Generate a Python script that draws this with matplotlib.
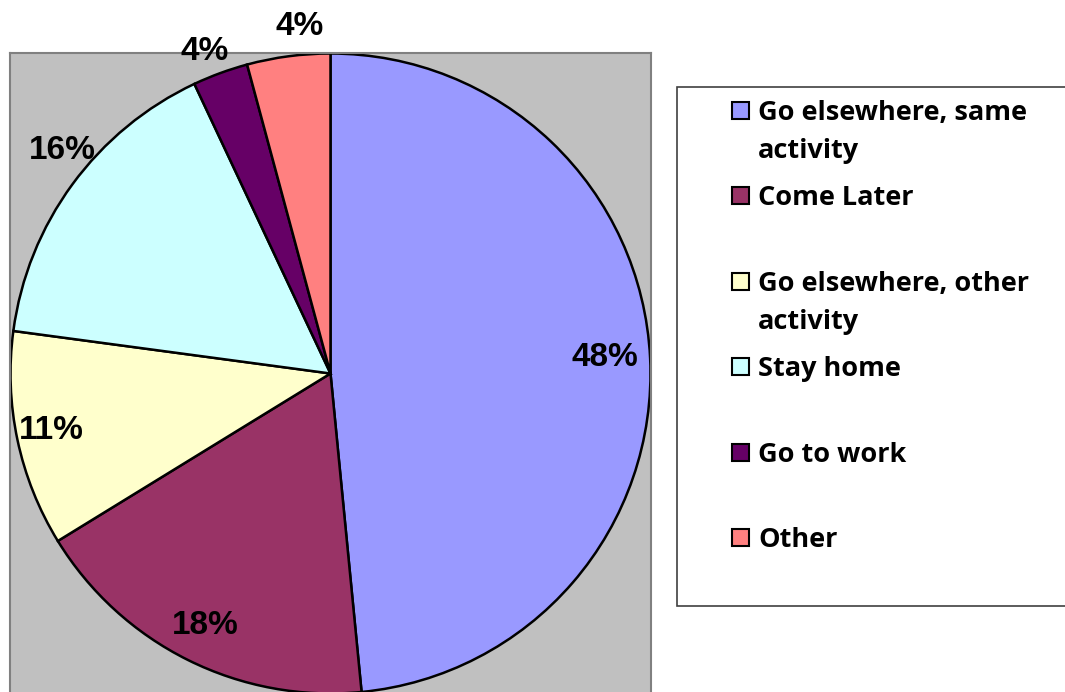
import matplotlib.pyplot as plt
from matplotlib.patches import Rectangle
import numpy as np

# slice shares (clockwise from 12 o'clock)
categories = ["Go elsewhere, same\nactivity", "Come Later",
              "Go elsewhere, other\nactivity", "Stay home",
              "Go to work", "Other"]
shares = [48.5, 17.8, 10.9, 15.9, 2.8, 4.2]
pct_labels = ["48%", "18%", "11%", "16%", "4%", "4%"]
colors = ["#9999FF", "#993366", "#FFFFCC", "#CCFFFF", "#660066", "#FF8080"]

W, H = 1065, 692
fig = plt.figure(figsize=(W / 100, H / 100), dpi=100)
fig.patch.set_facecolor("white")

# pie plot area (gray box), in pixels: x 10..651, y 53..694
ax = fig.add_axes([10 / W, (H - 694) / H, 641 / W, 641 / H])
ax.set_facecolor("#C0C0C0")
for s in ax.spines.values():
    s.set_color("#808080")
    s.set_linewidth(1.5)
ax.set_xticks([])
ax.set_yticks([])

wedges, _ = ax.pie(shares, colors=colors, startangle=90, counterclock=False,
                   radius=1.0, wedgeprops=dict(edgecolor="black", linewidth=1.8))
ax.set_xlim(-1.0016, 1.0016)
ax.set_ylim(-1.0016, 1.0016)
ax.set_aspect("equal")
ax.set_frame_on(True)

# label distance from centre and small angle nudge for each slice
label_r = [0.86, 0.88, 0.89, 1.09, 1.08, 1.09]
label_dang = [0.5, 0, -0.5, -3.5, 1.2, -2.5]
for w, txt, r, da in zip(wedges, pct_labels, label_r, label_dang):
    ang = np.deg2rad((w.theta1 + w.theta2) / 2 + da)
    ax.text(r * np.cos(ang), r * np.sin(ang), txt, ha="center", va="center",
            fontsize=24, fontweight="bold", family="Liberation Sans",
            clip_on=False)

# legend drawn in pixel space
lax = fig.add_axes([0, 0, 1, 1], zorder=-1)
lax.set_xlim(0, W)
lax.set_ylim(H, 0)
lax.axis("off")
lax.add_patch(Rectangle((677, 87), 420, 519, facecolor="white",
                        edgecolor="#404040", linewidth=1.2))
first_base = 120
step = 85.4
for i, (name, c) in enumerate(zip(categories, colors)):
    base = first_base + i * step
    lax.add_patch(Rectangle((732, base - 18), 17, 17, facecolor=c,
                            edgecolor="black", linewidth=1.5))
    for j, line in enumerate(name.split("\n")):
        lax.text(758, base + j * 38.5, line, ha="left", va="baseline",
                 fontsize=19.5, fontweight="bold", family="Open Sans")

fig.savefig("out.png", dpi=100)
